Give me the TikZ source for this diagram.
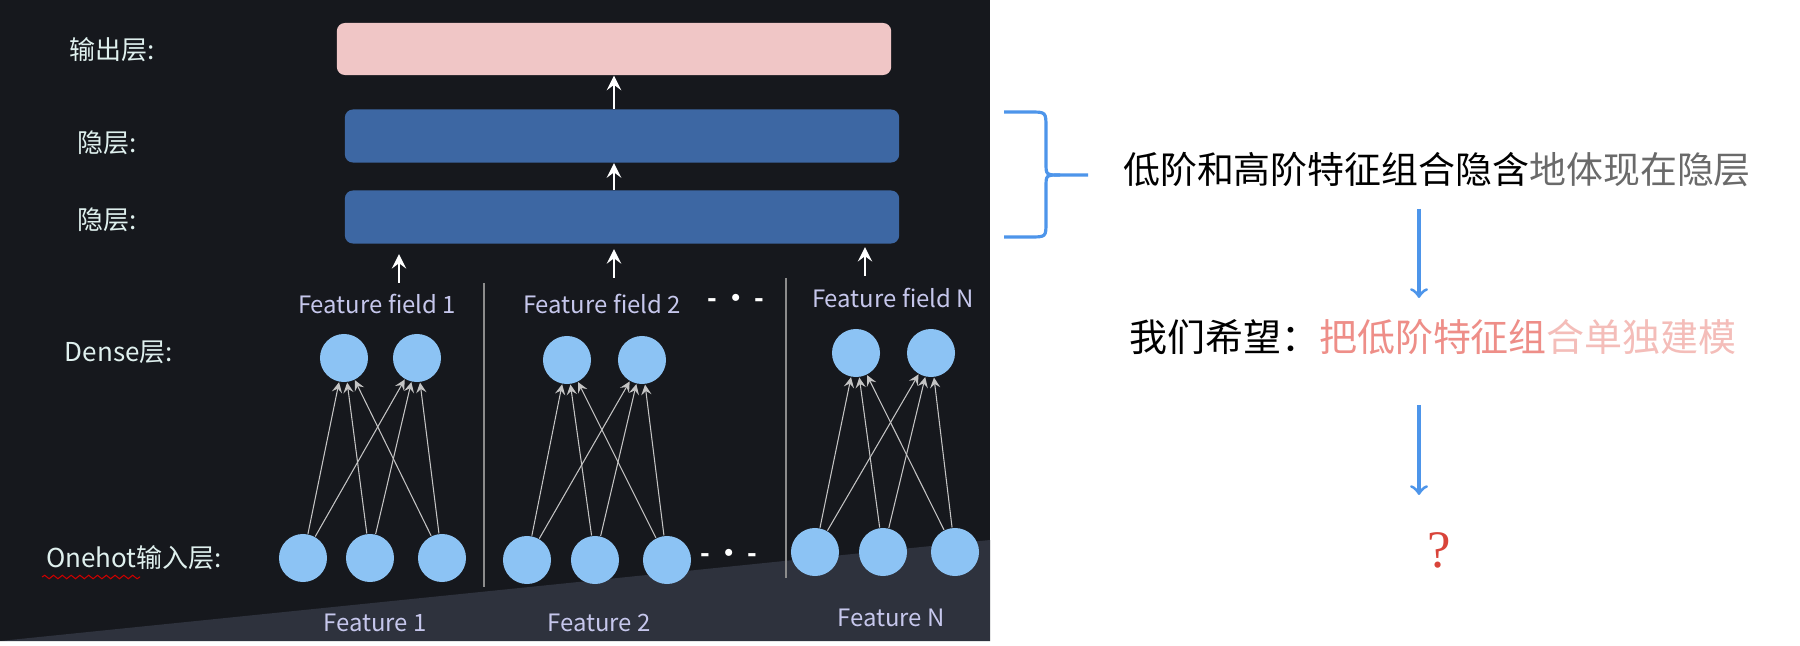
\documentclass[tikz,border=0pt]{standalone}
\usepackage{fontspec}
\setmainfont{Noto Sans CJK SC}
\newfontfamily\qfont{Liberation Serif}
\usetikzlibrary{arrows,decorations.pathmorphing}
\definecolor{panel}{HTML}{16181D}
\definecolor{panelhi}{HTML}{2E323D}
\definecolor{outpink}{HTML}{F0C6C6}
\definecolor{hidblue}{HTML}{3D67A3}
\definecolor{unitblue}{HTML}{8CC3F4}
\definecolor{labelc}{HTML}{DFF0EE}
\definecolor{fieldc}{HTML}{C6C7EC}
\definecolor{linkc}{HTML}{C4C4C4}
\definecolor{sepc}{HTML}{8C8C8C}
\definecolor{flowblue}{HTML}{4D95EA}
\definecolor{fadegray}{HTML}{6A6A6A}
\definecolor{wishred}{HTML}{EE8E88}
\definecolor{wishfade}{HTML}{F4BDB9}
\definecolor{qred}{HTML}{D9443A}
\tikzstyle{bar} = [rectangle, rounded corners=2.3pt, minimum width=5.54cm, minimum height=0.53cm, inner sep=0pt]
\tikzstyle{unit} = [circle, fill=unitblue, minimum size=0.48cm, inner sep=0pt]
\tikzstyle{layer} = [text=labelc, font=\fontsize{7.4}{9}\selectfont]
\tikzstyle{field} = [text=fieldc, font=\fontsize{6.8}{9}\selectfont]
\tikzstyle{dots} = [text=white, font=\fontsize{7.2}{9}\selectfont\bfseries]
\tikzstyle{note} = [font=\fontsize{10.5}{12}\selectfont, inner sep=0pt]
\tikzstyle{uparrow} = [white, line width=0.8pt, ->, >=stealth]
\tikzstyle{link} = [linkc, line width=0.3pt, ->, >=stealth]
\tikzstyle{flow} = [flowblue, line width=0.9pt, ->, >=to]

\begin{document}
\begin{tikzpicture}[x=0.01cm, y=-0.01cm]
\useasboundingbox (0,0) rectangle (1800,646);
\fill [white] (0,0) rectangle (1800,646);
\fill [panel] (0,0) rectangle (990,641);
\fill [panelhi] (0,641) -- (990,540) -- (990,641) -- cycle;

\node (lout) [layer] at (112,50) {输出层:};
\node (lhid1) [layer] at (107,143) {隐层:};
\node (lhid2) [layer] at (107,220) {隐层:};
\node (ldense) [layer] at (119,352) {Dense层:};
\node (lhot) [layer] at (134,558) {Onehot输入层:};
\draw [red!80!black, line width=0.3pt, decorate, decoration={snake, amplitude=0.5pt, segment length=2.5pt}] (42,577) -- (140,577);

\node (out) [bar, fill=outpink, minimum height=0.52cm] at (614,49) {};
\node (hid1) [bar, fill=hidblue] at (622,136) {};
\node (hid2) [bar, fill=hidblue] at (622,217) {};

\node (ff1) [field] at (377,304) {Feature field 1};
\node (ff2) [field] at (602,304) {Feature field 2};
\node (ffdots) [dots] at (736,301) {- · -};
\node (ffN) [field] at (893,298) {Feature field N};

\coordinate (in1) at (399,283);
\coordinate (in2) at (614,278);
\coordinate (inN) at (865,276);

\draw [uparrow] (hid1.north -| out.south) -- (out.south);
\draw [uparrow] (hid2.north -| out.south) -- (hid1.south -| out.south);
\draw [uparrow, shorten >=2.8pt] (in1) -- (in1 |- hid2.south);
\draw [uparrow, shorten >=1.4pt] (in2) -- (in2 |- hid2.south);
\draw [uparrow, shorten >=0.8pt] (inN) -- (inN |- hid2.south);

\draw [sepc, line width=0.4pt] (484,283) -- (484,587);
\draw [sepc, line width=0.4pt] (786,278) -- (786,578);

\node (d11) [unit] at (344,358) {};
\node (d12) [unit] at (417,358) {};
\node (d21) [unit] at (567,360) {};
\node (d22) [unit] at (642,360) {};
\node (dN1) [unit] at (856,353) {};
\node (dN2) [unit] at (931,353) {};

\node (o11) [unit] at (303,558) {};
\node (o12) [unit] at (370,558) {};
\node (o13) [unit] at (442,558) {};
\node (o21) [unit] at (527,560) {};
\node (o22) [unit] at (595,560) {};
\node (o23) [unit] at (667,560) {};
\node (hotdots) [dots] at (729,556) {- · -};
\node (oN1) [unit] at (815,552) {};
\node (oN2) [unit] at (883,552) {};
\node (oN3) [unit] at (955,552) {};

\draw [link] (o11) -- (d11);
\draw [link] (o11) -- (d12);
\draw [link] (o12) -- (d11);
\draw [link] (o12) -- (d12);
\draw [link] (o13) -- (d11);
\draw [link] (o13) -- (d12);
\draw [link] (o21) -- (d21);
\draw [link] (o21) -- (d22);
\draw [link] (o22) -- (d21);
\draw [link] (o22) -- (d22);
\draw [link] (o23) -- (d21);
\draw [link] (o23) -- (d22);
\draw [link] (oN1) -- (dN1);
\draw [link] (oN1) -- (dN2);
\draw [link] (oN2) -- (dN1);
\draw [link] (oN2) -- (dN2);
\draw [link] (oN3) -- (dN1);
\draw [link] (oN3) -- (dN2);

\node (f1) [field] at (375,623) {Feature 1};
\node (f2) [field] at (599,623) {Feature 2};
\node (fN) [field] at (891,618) {Feature N};

\draw [flowblue, line width=0.9pt] (1004,112) -- (1030,112) .. controls (1046,112) .. (1046,128) -- (1046,163) .. controls (1046,175) .. (1060,175) -- (1088,175);
\draw [flowblue, line width=0.9pt] (1060,175) .. controls (1046,175) .. (1046,187) -- (1046,222) .. controls (1046,237) .. (1030,237) -- (1004,237);

\node (low) [note] at (1437,170) {低阶和高阶特征组合隐含\textcolor{fadegray}{地体现在隐层}};
\node (want) [note, font=\fontsize{10.8}{12}\selectfont] at (1433,337) {我们希望：\textcolor{wishred}{把低阶特征组}\textcolor{wishfade}{合单独建模}};
\node (what) [text=qred, font=\qfont\fontsize{15}{18}\selectfont] at (1439,550) {?};

\coordinate (a1s) at (1419,209);
\coordinate (a1e) at (1419,298);
\coordinate (a2s) at (1419,405);
\coordinate (a2e) at (1419,495);
\draw [flow] (a1s) -- (a1e);
\draw [flow] (a2s) -- (a2e);
\end{tikzpicture}
\end{document}
